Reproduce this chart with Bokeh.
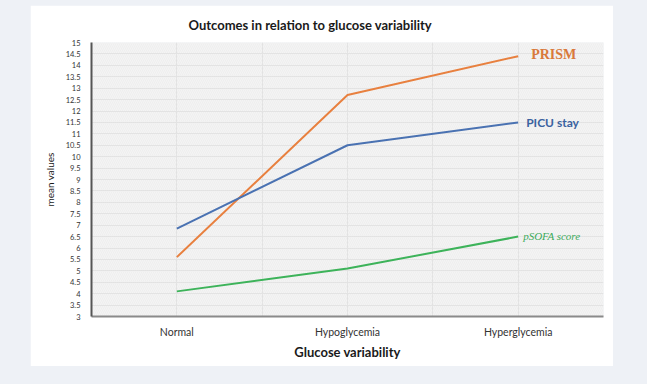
from bokeh.plotting import figure
from bokeh.layouts import column
from bokeh.models import FixedTicker, BoxAnnotation, Range1d
from bokeh.core.properties import value
from bokeh.embed import file_html
from bokeh.resources import INLINE

categories = ["Normal", "Hypoglycemia", "Hyperglycemia"]
cat_pos = [0.5, 1.5, 2.5]
picu_stay = [6.85, 10.5, 11.5]
prism = [5.6, 12.7, 14.4]
psofa = [4.1, 5.1, 6.5]
series_names = ["PRISM", "PICU stay", "pSOFA score"]
y_ticks = [3 + 0.5 * i for i in range(25)]

p = figure(width=583, height=361, output_backend="svg", toolbar_location=None,
           x_range=Range1d(0, 3), y_range=Range1d(3, 15),
           min_border_left=61, min_border_right=10, min_border_top=37,
           min_border_bottom=50)
p.title.text = "Outcomes in relation to glucose variability"
p.title.align = "left"
p.title.offset = 97
p.title.standoff = 19
p.title.text_font = "Lato"
p.title.text_font_size = "13px"
p.title.text_font_style = "bold"
p.title.text_color = "#1a1a1a"

p.border_fill_color = "white"
p.background_fill_color = "#f4f4f4"
p.outline_line_color = None

hatch = BoxAnnotation(left=0, right=3, bottom=3, top=15, fill_alpha=0, line_color=None,
                      hatch_pattern="left_diagonal_line", hatch_color="#e6e6e6",
                      hatch_scale=4, hatch_weight=0.5, hatch_alpha=0.8, level="underlay")
p.add_layout(hatch)

p.xaxis.ticker = FixedTicker(ticks=cat_pos)
p.xaxis.major_label_overrides = {pos: c for pos, c in zip(cat_pos, categories)}
p.xgrid.ticker = FixedTicker(ticks=[0.5 * i for i in range(7)])
p.yaxis.ticker = FixedTicker(ticks=y_ticks)
p.yaxis.major_label_overrides = {t: (str(int(t)) if t == int(t) else str(t)) for t in y_ticks}
p.ygrid.ticker = FixedTicker(ticks=y_ticks)
p.xgrid.grid_line_color = "#e2e2e2"
p.ygrid.grid_line_color = "#e2e2e2"

for ax in (p.xaxis, p.yaxis):
    ax.major_tick_line_color = None
    ax.minor_tick_line_color = None
    ax.major_label_text_font = "Lato"
    ax.major_label_text_color = "#333333"
    ax.axis_label_text_font = "Lato"
    ax.axis_label_text_font_style = "bold"
    ax.axis_label_text_color = "#1a1a1a"

p.xaxis.axis_line_color = "#8a8a8a"
p.xaxis.axis_line_width = 2
p.yaxis.axis_line_color = "#555555"
p.yaxis.axis_line_width = 2
p.xaxis.axis_label = "Glucose variability"
p.xaxis.axis_label_text_font_size = "13px"
p.xaxis.major_label_text_font_size = "10.5px"
p.xaxis.major_label_standoff = 3
p.xaxis.axis_label_standoff = 3
p.yaxis.axis_label = "mean values"
p.yaxis.axis_label_text_font_size = "10px"
p.yaxis.major_label_text_font_size = "7.5px"
p.yaxis.axis_label_text_font_style = "normal"
p.yaxis.major_label_standoff = 5
p.yaxis.axis_label_standoff = 7

orange = "#E8803F"
blue = "#4A72B2"
green = "#3DB35A"

p.line(cat_pos, prism, line_color=orange, line_width=2)
p.line(cat_pos, picu_stay, line_color=blue, line_width=2)
p.line(cat_pos, psofa, line_color=green, line_width=2)

p.text(x=[cat_pos[-1]], y=[prism[-1]], text=[series_names[0]], x_offset=13, y_offset=-2,
       text_baseline="middle", text_font=value("Liberation Serif"), text_font_style="bold",
       text_font_size="14px", text_color="#D9793A")
p.text(x=[cat_pos[-1]], y=[picu_stay[-1]], text=[series_names[1]], x_offset=8, y_offset=0,
       text_baseline="middle", text_font=value("Lato"), text_font_style="bold",
       text_font_size="12px", text_color="#3A62A0")
p.text(x=[cat_pos[-1]], y=[psofa[-1]], text=[series_names[2]], x_offset=5, y_offset=-1,
       text_baseline="middle", text_font=value("Liberation Serif"), text_font_style="italic",
       text_font_size="11px", text_color="#3BAA5A")

layout = column(p, styles={"background-color": "#eef1f6",
                           "padding": "5px 34px 18px 30px"})

open("out.html", "w").write(file_html(layout, INLINE))
